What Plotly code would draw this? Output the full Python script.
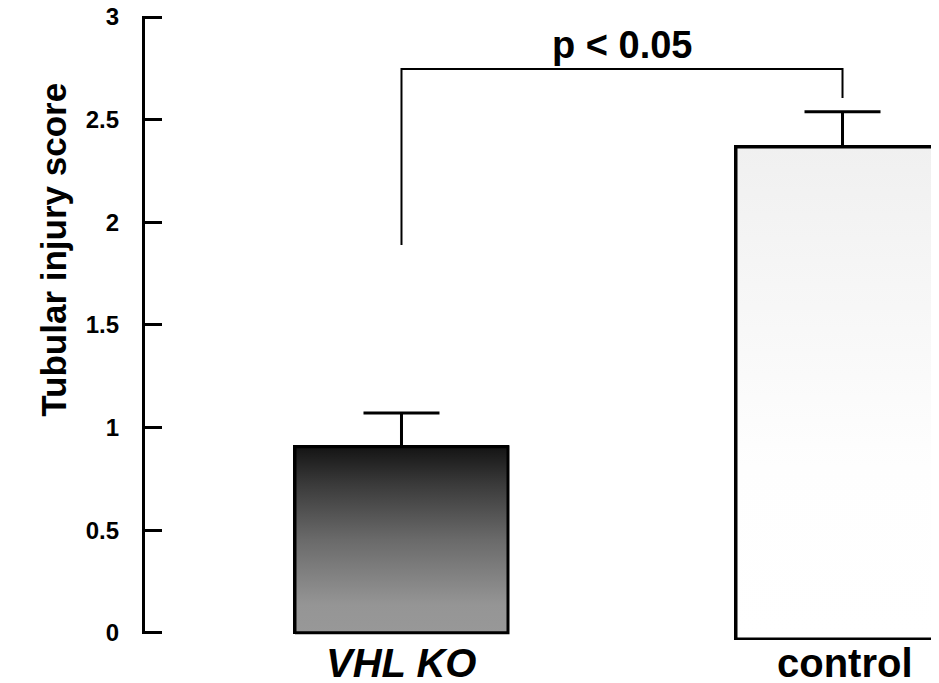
import plotly.graph_objects as go

# ---- data ----
categories = ["VHL KO", "control"]
scores = [0.906, 2.367]
errors = [0.165, 0.172]
bar_bases = [0.0, -0.03]
y_ticks = [0, 0.5, 1, 1.5, 2, 2.5, 3]
y_ticklabels = ["0", "0.5", "1", "1.5", "2", "2.5", "3"]
p_text = "p < 0.05"
bracket_top = 2.747
bracket_ends = [1.89, 2.606]

FONT = "Liberation Sans, Arial, sans-serif"
bar_w = 0.483
xpos = list(range(len(categories)))

gradients = [
    [[0, "#989898"], [0.15, "#959595"], [0.5, "#6a6a6a"], [0.8, "#3a3a3a"], [1, "#141414"]],
    [[0, "#ffffff"], [0.35, "#fefefe"], [1, "#f0f0f0"]],
]

fig = go.Figure()

# bars (carry error bars)
fig.add_trace(go.Bar(
    x=xpos, y=[s - b for s, b in zip(scores, bar_bases)], base=bar_bases,
    width=bar_w,
    marker=dict(color=["#606060", "#f8f8f8"], line=dict(color="black", width=3)),
    error_y=dict(type="data", array=errors, symmetric=False, arrayminus=[0, 0],
                 color="black", thickness=3, width=38),
    showlegend=False, hoverinfo="skip",
))

# gradient fill overlays on the bars, derived from the same data
for i, (s, b) in enumerate(zip(scores, bar_bases)):
    x0, x1 = xpos[i] - bar_w / 2, xpos[i] + bar_w / 2
    fig.add_trace(go.Scatter(
        x=[x0, x1, x1, x0, x0], y=[b, b, s, s, b],
        mode="lines", fill="toself",
        fillgradient=dict(type="vertical", colorscale=gradients[i]),
        line=dict(color="black", width=3),
        showlegend=False, hoverinfo="skip",
    ))

shapes = []
# y axis line from 0 to 3
shapes.append(dict(type="line", xref="paper", yref="y", x0=1.5 / 797, x1=1.5 / 797,
                   y0=y_ticks[0], y1=y_ticks[-1], line=dict(color="black", width=3)))
# significance bracket
shapes.append(dict(type="path", xref="x", yref="y",
                   path=f"M {xpos[0]},{bracket_ends[0]} L {xpos[0]},{bracket_top} "
                        f"L {xpos[1]},{bracket_top} L {xpos[1]},{bracket_ends[1]}",
                   line=dict(color="black", width=2)))

annotations = [
    dict(text=p_text, x=0.5, y=bracket_top, xref="x", yref="y", yanchor="bottom",
         yshift=1, showarrow=False, font=dict(family=FONT, size=38, color="black", weight="bold")),
    dict(text="Tubular injury score", textangle=-90, xref="paper", yref="paper",
         x=-0.139, y=0.624, showarrow=False,
         font=dict(family=FONT, size=35, color="black", weight="bold")),
    dict(text="<i>" + categories[0] + "</i>", x=xpos[0], y=-0.036, xref="x", yref="paper",
         yanchor="middle", showarrow=False,
         font=dict(family=FONT, size=40, color="black", weight="bold")),
    dict(text=categories[1], x=xpos[1] + 0.006, y=-0.036, xref="x", yref="paper",
         yanchor="middle", showarrow=False,
         font=dict(family=FONT, size=40, color="black", weight="bold")),
]

fig.update_layout(
    width=939, height=683,
    margin=dict(l=134, r=8, t=7, b=51, autoexpand=False),
    paper_bgcolor="white", plot_bgcolor="white",
    shapes=shapes, annotations=annotations,
    bargap=0,
    xaxis=dict(range=[-0.5884, 1.2188], showgrid=False, zeroline=False, showline=False,
               showticklabels=False, ticks="", fixedrange=True, automargin=False),
    yaxis=dict(range=[-0.035, 3.01], showgrid=False, zeroline=False, showline=False,
               tickvals=y_ticks, ticktext=y_ticklabels, ticks="inside", ticklen=20,
               tickwidth=3, tickcolor="black", ticklabelstandoff=22,
               ticklabeloverflow="allow", automargin=False,
               tickfont=dict(family=FONT, size=24, color="black", weight="bold"),
               fixedrange=True),
)

fig.write_html("out.html")
